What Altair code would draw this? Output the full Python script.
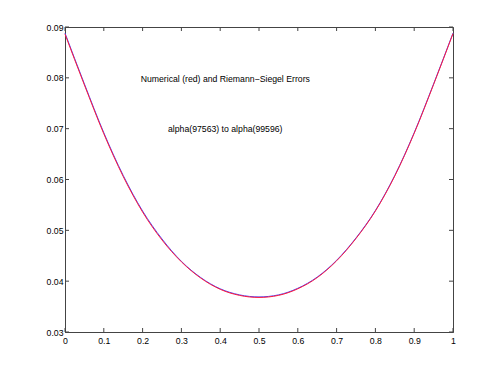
import altair as alt
import pandas as pd

x_vals = [0.0, 0.05, 0.1, 0.15, 0.2, 0.25, 0.3, 0.35, 0.4, 0.45, 0.5,
          0.55, 0.6, 0.65, 0.7, 0.75, 0.8, 0.85, 0.9, 0.95, 1.0]
numerical = [0.0886, 0.0786, 0.0690, 0.0606, 0.0536, 0.0481, 0.0438, 0.0406, 0.0384, 0.0372, 0.0368,
             0.0372, 0.0385, 0.0407, 0.0440, 0.0484, 0.0538, 0.0607, 0.0691, 0.0787, 0.0887]
riemann_siegel = [0.0888, 0.0788, 0.0692, 0.0608, 0.0538, 0.0483, 0.0439, 0.0407, 0.0385, 0.0373, 0.0369,
                  0.0373, 0.0386, 0.0408, 0.0441, 0.0485, 0.0539, 0.0608, 0.0692, 0.0788, 0.0888]
x_ticks = [0, 0.1, 0.2, 0.3, 0.4, 0.5, 0.6, 0.7, 0.8, 0.9, 1.0]
y_ticks = [0.03, 0.04, 0.05, 0.06, 0.07, 0.08, 0.09]
title_line1 = "Numerical (red) and Riemann\u2212Siegel Errors"
title_line2 = "alpha(97563) to alpha(99596)"

W, H = 388, 305
FONT = "Liberation Sans"
FS = 8.7
AX = "#444444"

df = pd.DataFrame({"x": x_vals, "num": numerical, "rs": riemann_siegel})
xs = alt.Scale(domain=[0, 1], nice=False, zero=False)
ys = alt.Scale(domain=[0.03, 0.09], nice=False, zero=False)

xaxis = alt.Axis(values=x_ticks, ticks=False, grid=False, labelFont=FONT, labelFontSize=FS,
                 labelColor="#000", domainColor=AX, labelPadding=4, title=None,
                 labelFlush=False, labelOverlap=False, labelBound=False,
                 labelExpr="datum.value == 0 ? '0' : datum.value == 1 ? '1' : format(datum.value, '.1f')")
yaxis = alt.Axis(values=y_ticks, ticks=False, grid=False, labelFont=FONT, labelFontSize=FS,
                 labelColor="#000", domainColor=AX, labelPadding=2, title=None, format=".2f",
                 labelOverlap=False, labelFlush=False)

base = alt.Chart(df)
blue = base.mark_line(color="#4444ff", strokeWidth=1, interpolate="monotone").encode(
    x=alt.X("x:Q", scale=xs, axis=xaxis), y=alt.Y("rs:Q", scale=ys, axis=yaxis))
red = base.mark_line(color="#ff1a3c", strokeWidth=1, interpolate="monotone").encode(
    x=alt.X("x:Q", scale=xs, axis=xaxis), y=alt.Y("num:Q", scale=ys, axis=yaxis))

xt = alt.Chart(pd.DataFrame({"t": x_ticks}))
yt = alt.Chart(pd.DataFrame({"t": y_ticks}))
tick_b = xt.mark_rule(color=AX).encode(x=alt.X("t:Q", scale=xs, axis=xaxis), y=alt.value(H), y2=alt.value(H - 4))
tick_t = xt.mark_rule(color=AX).encode(x=alt.X("t:Q", scale=xs, axis=xaxis), y=alt.value(0), y2=alt.value(4))
tick_l = yt.mark_rule(color=AX).encode(y=alt.Y("t:Q", scale=ys, axis=yaxis), x=alt.value(0), x2=alt.value(4))
tick_r = yt.mark_rule(color=AX).encode(y=alt.Y("t:Q", scale=ys, axis=yaxis), x=alt.value(W), x2=alt.value(W - 4))

txt1 = alt.Chart(pd.DataFrame({"s": [title_line1]})).mark_text(
    font=FONT, fontSize=FS, color="#000", align="center", baseline="middle").encode(
    x=alt.datum(0.413, scale=xs, axis=xaxis), y=alt.datum(0.0797, scale=ys, axis=yaxis), text="s:N")
txt2 = alt.Chart(pd.DataFrame({"s": [title_line2]})).mark_text(
    font=FONT, fontSize=FS, color="#000", align="center", baseline="middle").encode(
    x=alt.datum(0.413, scale=xs, axis=xaxis), y=alt.datum(0.0699, scale=ys, axis=yaxis), text="s:N")

chart = alt.layer(blue, red, tick_b, tick_t, tick_l, tick_r, txt1, txt2).properties(
    width=W, height=H,
    padding={"left": 57, "top": 19, "right": 37, "bottom": 34},
    autosize=alt.AutoSizeParams(type="none"),
    background="white",
).configure_view(stroke=AX, strokeWidth=1)

chart.save("out.html", embed_options={"renderer": "svg", "actions": False})
